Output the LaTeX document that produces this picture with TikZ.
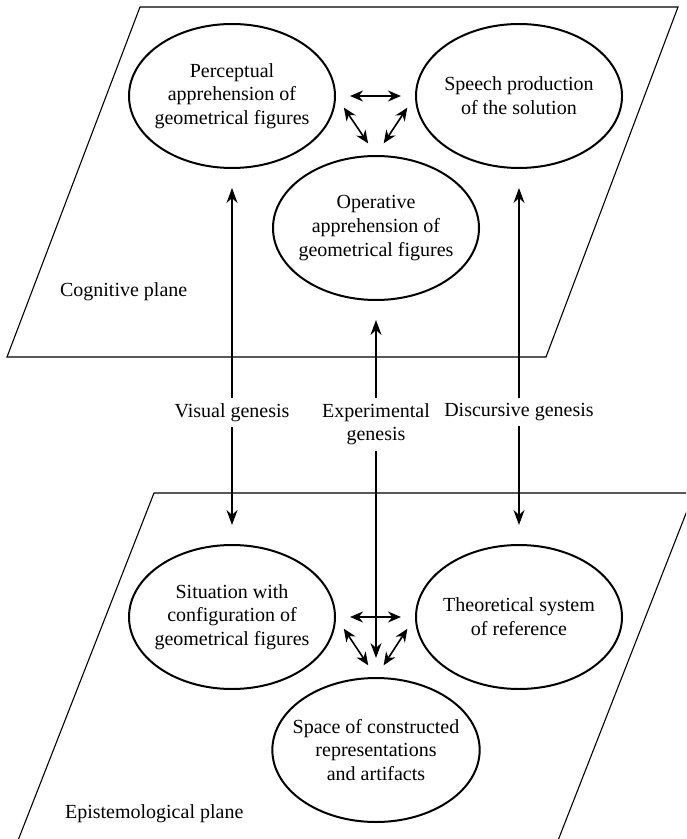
\documentclass[tikz,border=0pt]{standalone}
\usepackage{fontspec}
\setmainfont{Liberation Serif}
\usetikzlibrary{arrows.meta, shapes.geometric}

\begin{document}
\begin{tikzpicture}[x=0.5pt, y=-0.5pt,
		every node/.style={font=\fontsize{10}{11.85}\selectfont, align=center},
		concept/.style={draw, ellipse, line width=1pt, inner sep=-5pt, minimum width=103pt, minimum height=72pt},
		genesis/.style={anchor=north, inner sep=2.5pt},
		tri/.style={<->, >={Stealth[length=6.5pt, width=5.5pt]}, line width=0.8pt, shorten <=7pt, shorten >=7pt},
		gen/.style={->, >={Stealth[length=7.5pt, width=5.5pt]}, line width=0.55pt, shorten >=9.5pt}]
			\useasboundingbox (0,0) rectangle (686,839);
			\clip (0,0) rectangle (686,839);

			% planes
			\draw[line width=0.55pt] (140,7) -- (678,7) -- (546,357) -- (7,357) -- cycle;
			\draw[line width=0.55pt] (154,493) -- (694,493) -- (557,843) -- (17,843) -- cycle;
			\node (cp) [anchor=base west] at (53,297) {Cognitive plane};
			\node (ep) [anchor=base west] at (58,818) {Epistemological plane};

			% cognitive plane
			\node (pa) [concept] at (232,96) {Perceptual\\apprehension of\\geometrical figures};
			\node (sp) [concept] at (519,96) {Speech production\\of the solution};
			\node (oa) [concept] at (376,228) {Operative\\apprehension of\\geometrical figures};

			% epistemological plane
			\node (sit) [concept] at (232,617) {Situation with\\configuration of\\geometrical figures};
			\node (th) [concept] at (519,617) {Theoretical system\\of reference};
			\node (sc) [concept] at (376,750) {Space of constructed\\representations\\and artifacts};

			% geneses
			\node (vg) [genesis] at (232,398) {Visual genesis};
			\node (eg) [genesis] at (376,398) {Experimental\\genesis};
			\node (dg) [genesis] at (519,398) {Discursive genesis};

			\draw[tri] (pa.east) -- (sp.west);
			\draw[tri] (pa.east) -- (oa.north);
			\draw[tri] (sp.west) -- (oa.north);
			\draw[tri] (sit.east) -- (th.west);
			\draw[tri] (sit.east) -- (sc.north);
			\draw[tri] (th.west) -- (sc.north);

			\draw[gen] (vg) -- (pa);
			\draw[gen] (vg) -- (sit);
			\draw[gen] (eg) -- (oa);
			\draw[gen] (eg) -- (sc);
			\draw[gen] (dg) -- (sp);
			\draw[gen] (dg) -- (th);

		\end{tikzpicture}
\end{document}
